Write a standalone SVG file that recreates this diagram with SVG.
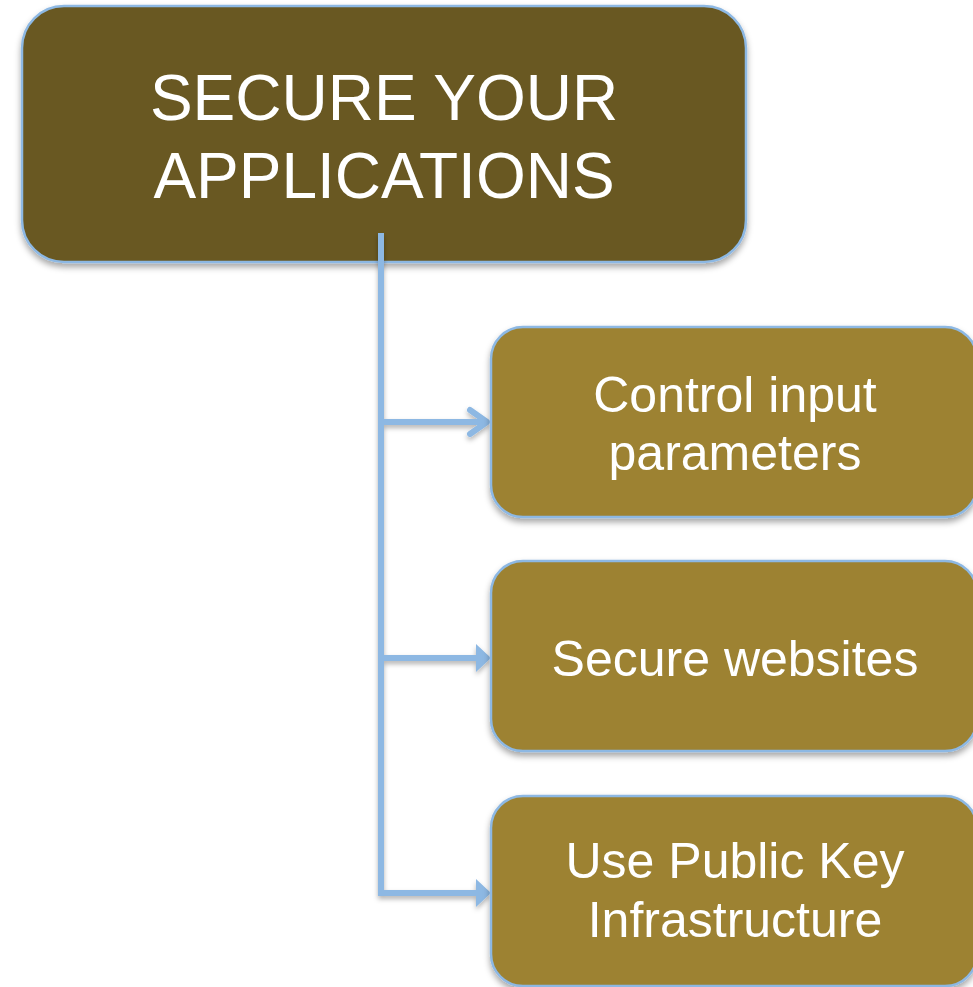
<svg xmlns="http://www.w3.org/2000/svg" width="973" height="987" viewBox="0 0 973 987">
<style>
.box{stroke:#8db8e3;stroke-width:2.5;filter:url(#sh)}
.top{fill:#695822}
.child{fill:#9d8232}
.t{font-family:"Liberation Sans",Arial,sans-serif;fill:#ffffff;text-anchor:middle}
.big{font-size:64px}
.sm{font-size:50px}
.conn{stroke:#8db8e3;stroke-width:6;fill:none}
</style>
<defs>
<filter id="sh" x="-10%" y="-10%" width="120%" height="130%">
<feDropShadow dx="0" dy="4" stdDeviation="3" flood-color="#000" flood-opacity="0.35"/>
</filter>
<filter id="sh2" filterUnits="userSpaceOnUse" x="0" y="0" width="973" height="987">
<feDropShadow dx="0" dy="3" stdDeviation="2.5" flood-color="#000" flood-opacity="0.3"/>
</filter>
</defs>
<rect width="973" height="987" fill="#ffffff"/>
<g id="root">
<rect class="box top" x="22" y="6" width="724" height="256" rx="42"/>
<text class="t big" x="384" y="120">SECURE YOUR</text>
<text class="t big" x="384" y="198">APPLICATIONS</text>
</g>
<g id="connectors" filter="url(#sh2)">
<path class="conn" d="M381,233 V893 H478"/>
<path class="conn" d="M381,422 H486"/>
<path class="conn" d="M381,658 H478"/>
<path class="conn" d="M470,410 L487,422 L470,434" stroke-linecap="round" stroke-linejoin="round"/>
<polygon points="476,644 491,658 476,672" fill="#8db8e3"/>
<polygon points="476,879 491,893 476,907" fill="#8db8e3"/>
</g>
<g id="n1">
<rect class="box child" x="491" y="327" width="486" height="190" rx="32"/>
<text class="t sm" x="735" y="412">Control input</text>
<text class="t sm" x="735" y="470">parameters</text>
</g>
<g id="n2">
<rect class="box child" x="491" y="561" width="486" height="190" rx="32"/>
<text class="t sm" x="735" y="676">Secure websites</text>
</g>
<g id="n3">
<rect class="box child" x="491" y="796" width="486" height="190" rx="32"/>
<text class="t sm" x="735" y="878">Use Public Key</text>
<text class="t sm" x="735" y="937">Infrastructure</text>
</g>
</svg>
